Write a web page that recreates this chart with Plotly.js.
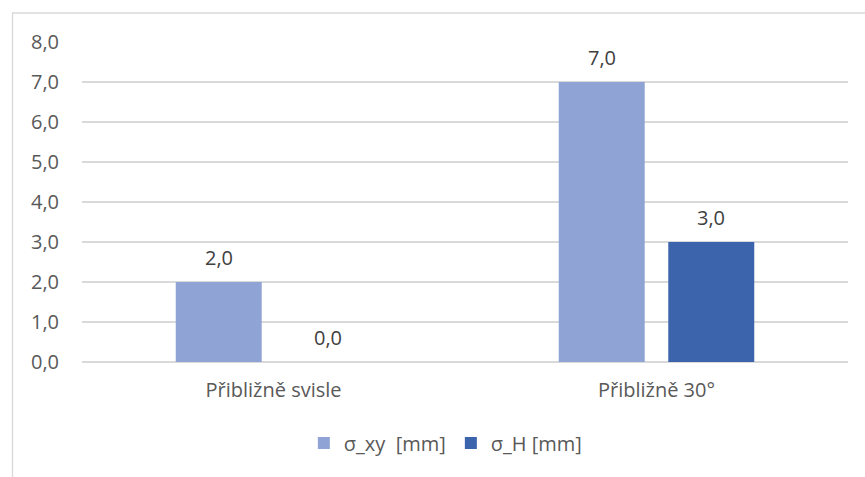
<!DOCTYPE html>
<html>
<head>
<meta charset="utf-8">
<script src="https://cdn.plot.ly/plotly-3.0.1.min.js"></script>
<style>html,body{margin:0;padding:0;background:#fff;}#chart{width:865px;height:477px;}</style>
</head>
<body>
<div id="chart"></div>
<script>
const categories = ["Přibližně svisle", "Přibližně 30°"];
const seriesNames = ["σ_xy  [mm]", "σ_H [mm]"];
const sigmaXY = [2.0, 7.0];
const sigmaH = [0.0, 3.0];
const yTicks = [0, 1, 2, 3, 4, 5, 6, 7, 8];

const colors = ["#8FA4D4", "#3B64AD"];
const seriesValues = [sigmaXY, sigmaH];
const FONT = "Open Sans, sans-serif";
const FS = 20;

const traces = seriesValues.map((vals, i) => ({
  type: "bar",
  name: seriesNames[i],
  x: categories,
  y: vals,
  marker: {color: colors[i]},
  hoverinfo: "skip"
}));

const shifts = [-54.75, 54.75];
const annotations = [];
seriesValues.forEach((vals, i) => {
  vals.forEach((v, j) => {
    annotations.push({
      x: categories[j], y: v, xref: "x", yref: "y",
      text: v.toFixed(1).replace(".", ","),
      showarrow: false, xshift: shifts[i], yshift: 25,
      yanchor: "middle",
      font: {family: FONT, size: FS, color: "#404040"}
    });
  });
});

const layout = {
  width: 865, height: 477,
  margin: {l: 82, r: 17, t: 42, b: 115},
  paper_bgcolor: "#ffffff", plot_bgcolor: "#ffffff",
  separators: ", ",
  barmode: "group",
  bargap: 0.428,
  bargroupgap: 0.215,
  showlegend: true,
  legend: {
    orientation: "h", x: 0.475, xanchor: "center", y: -0.253, yanchor: "middle",
    font: {family: FONT, size: FS, color: "#595959"},
    itemclick: false, itemdoubleclick: false
  },
  xaxis: {
    type: "category",
    showgrid: false, showline: false, zeroline: false, ticks: "",
    ticklabelstandoff: 14,
    tickfont: {family: FONT, size: FS, color: "#595959"},
    fixedrange: true
  },
  yaxis: {
    range: [0, 8], tickvals: yTicks, tickformat: ".1f",
    showgrid: true, gridcolor: "#d9d9d9", gridwidth: 1.3,
    zeroline: true, zerolinecolor: "#d9d9d9", zerolinewidth: 1.3,
    showline: false, ticks: "", ticklabelstandoff: 22,
    tickfont: {family: FONT, size: FS, color: "#595959"},
    fixedrange: true
  },
  annotations: annotations,
  shapes: [{
    type: "rect", xref: "paper", yref: "paper",
    x0: -0.0907, x1: 1.03, y0: -0.4, y1: 1.0906,
    line: {color: "#d9d9d9", width: 1.3}, fillcolor: "rgba(0,0,0,0)", layer: "below"
  }]
};

Plotly.newPlot("chart", traces, layout, {displayModeBar: false, staticPlot: true});
</script>
</body>
</html>
